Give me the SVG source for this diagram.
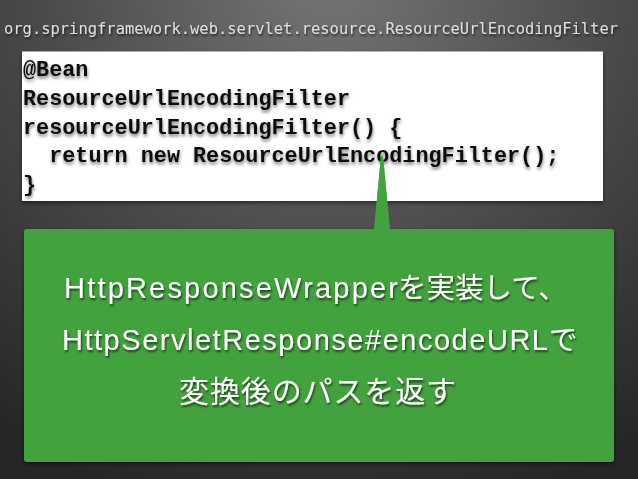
<svg xmlns="http://www.w3.org/2000/svg" width="638" height="479" viewBox="0 0 638 479">
  <defs>
    <radialGradient id="bg" gradientUnits="userSpaceOnUse" cx="330" cy="-30" r="560">
      <stop offset="0" stop-color="#767676"/>
      <stop offset="0.5" stop-color="#4c4c4c"/>
      <stop offset="1" stop-color="#262626"/>
    </radialGradient>
    <filter id="tshadow" x="-5%" y="-20%" width="110%" height="150%">
      <feDropShadow dx="1" dy="2" stdDeviation="1.2" flood-color="#000" flood-opacity="0.6"/>
    </filter>
    <filter id="cshadow" x="-5%" y="-20%" width="110%" height="150%">
      <feDropShadow dx="0.5" dy="2.5" stdDeviation="1.6" flood-color="#000" flood-opacity="0.5"/>
    </filter>
    <filter id="bshadow" x="-5%" y="-5%" width="110%" height="115%">
      <feDropShadow dx="0" dy="2" stdDeviation="2" flood-color="#000" flood-opacity="0.5"/>
    </filter>
    <style>
      .title { font-family: "DejaVu Sans Mono", "Liberation Mono", monospace; font-size: 15.2px; fill: #dedede; }
      .code { font-family: "Liberation Mono", "DejaVu Sans Mono", monospace; font-size: 21.8px; font-weight: bold; fill: #111; white-space: pre; }
      .lat { font-family: "Liberation Sans", Arial, sans-serif; font-size: 29px; fill: #ffffff; }
      .jp { font-family: "Noto Sans CJK JP", "Liberation Sans", sans-serif; fill: #ffffff; }
      .green { fill: #42a23e; }
    </style>
  </defs>

  <rect id="background" x="0" y="0" width="638" height="479" fill="url(#bg)"/>

  <g id="title" filter="url(#tshadow)">
    <text class="title" x="4" y="34" textLength="614" lengthAdjust="spacingAndGlyphs">org.springframework.web.servlet.resource.ResourceUrlEncodingFilter</text>
  </g>

  <g id="code-box">
    <rect x="22" y="51.5" width="581" height="149.5" fill="#ffffff" filter="url(#bshadow)"/>
    <g filter="url(#cshadow)">
      <text class="code" x="23" y="76" xml:space="preserve">@Bean</text>
      <text class="code" x="23" y="104.75" xml:space="preserve">ResourceUrlEncodingFilter</text>
      <text class="code" x="23" y="133.5" xml:space="preserve">resourceUrlEncodingFilter() {</text>
      <text class="code" x="23" y="162.25" xml:space="preserve">  return new ResourceUrlEncodingFilter();</text>
      <text class="code" x="23" y="191" xml:space="preserve">}</text>
    </g>
  </g>

  <g id="connectors">
    <polygon class="green" points="374,231 381,156 383,156 390,231"/>
  </g>

  <g id="callout">
    <rect class="green" x="24" y="229" width="590" height="233" rx="3" filter="url(#bshadow)"/>
    <polygon class="green" points="374,231 381,156 383,156 390,231"/>
    <g filter="url(#tshadow)">
      <text class="lat" x="64" y="298" textLength="334" lengthAdjust="spacing">HttpResponseWrapper</text>
      <text class="jp" x="398" y="298" font-size="28.5">を実装して、</text>
      <text class="lat" x="62" y="350" textLength="486" lengthAdjust="spacing">HttpServletResponse#encodeURL</text>
      <text class="jp" x="549" y="350" font-size="28.5">で</text>
      <text class="jp" x="179" y="402" font-size="30" textLength="277" lengthAdjust="spacing">変換後のパスを返す</text>
    </g>
  </g>
</svg>
